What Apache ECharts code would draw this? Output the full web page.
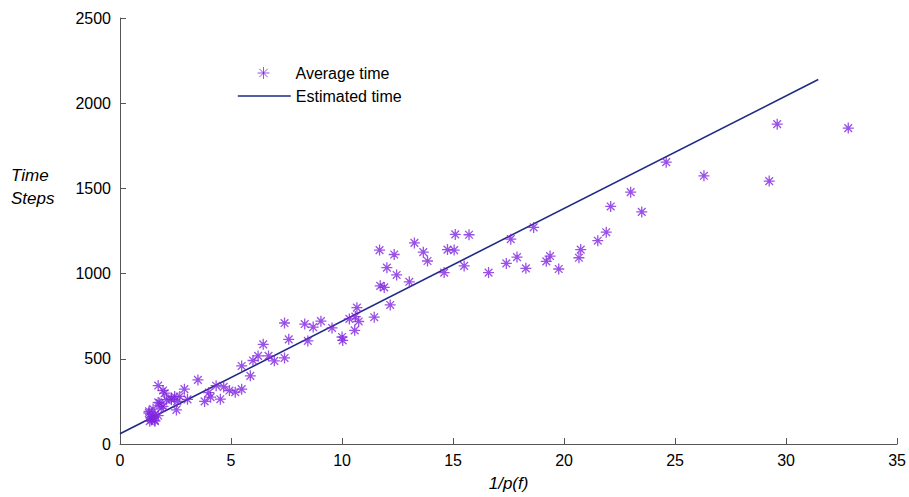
<!DOCTYPE html>
<html>
<head>
<meta charset="utf-8">
<script src="https://cdn.jsdelivr.net/npm/echarts@6/dist/echarts.min.js"></script>
<style>
  html, body { margin: 0; padding: 0; background: #fff; }
  #chart { width: 909px; height: 497px; }
</style>
</head>
<body>
<div id="chart"></div>
<script>
// Measured average run time against 1/p(f)
const avgX = [1.31, 1.30, 1.42, 1.34, 1.39, 1.49, 1.57, 1.57, 1.57, 1.72, 1.45,
  1.72, 1.72, 1.79, 1.86, 1.94, 1.94, 2.01, 2.09, 2.31, 2.31, 2.46, 2.54, 2.58, 2.69, 2.90, 3.04, 3.51,
  3.81, 4.00, 4.08, 4.33, 4.52, 4.67, 4.93, 5.19, 5.48, 5.48, 5.87, 5.99, 6.22, 6.45, 6.69, 6.95,
  7.41, 7.41, 7.60, 8.32, 8.46, 8.70, 9.05, 9.55, 10.00, 10.03, 10.33, 10.57, 10.60, 10.67, 10.75,
  11.45, 11.69, 11.72, 11.90, 12.02, 12.17, 12.35, 12.46, 13.03, 13.26, 13.66, 13.85, 14.60, 14.75,
  15.05, 15.10, 15.50, 15.72, 16.60, 17.40, 17.60, 17.88, 18.28, 18.63, 19.20, 19.37, 19.76, 20.67,
  20.75, 21.52, 21.90, 22.10, 23.00, 23.50, 24.60, 26.30, 29.24, 29.60, 32.80];
const avgY = [192, 182, 143, 134, 153, 205, 134, 172, 140, 167, 160,
  343, 244, 240, 211, 221, 314, 298, 260, 269, 260, 279, 200, 250, 279, 322, 262, 376,
  250, 302, 275, 342, 263, 335, 314, 304, 322, 458, 400, 490, 517, 585, 517, 488,
  505, 710, 614, 704, 605, 686, 721, 681, 628, 608, 734, 667, 748, 800, 719,
  744, 1138, 928, 919, 1035, 816, 1112, 992, 952, 1180, 1126, 1074, 1006, 1141,
  1138, 1230, 1045, 1228, 1006, 1060, 1202, 1097, 1031, 1271, 1072, 1103, 1027, 1093,
  1141, 1193, 1243, 1394, 1478, 1362, 1654, 1574, 1543, 1877, 1854];

// Fitted linear estimate (end points of the fit)
const estX = [0, 31.45];
const estY = [60, 2139];

// Axis ticks
const xTicks = [0, 5, 10, 15, 20, 25, 30, 35];
const yTicks = [0, 500, 1000, 1500, 2000, 2500];

const avgPoints = avgX.map((x, i) => [x, avgY[i]]);
const estPoints = estX.map((x, i) => [x, estY[i]]);

// Asterisk marker: four crossing strokes
const asterisk = 'path://M5,0L5,10M0,5L10,5M1.5,1.5L8.5,8.5M1.5,8.5L8.5,1.5';

const purple = '#8026e0';
const navy = '#1f2a86';
const axisGray = '#555555';
const font = '"Liberation Sans", Arial, Helvetica, sans-serif';

const chart = echarts.init(document.getElementById('chart'), null, { renderer: 'svg' });

chart.setOption({
  animation: false,
  backgroundColor: '#ffffff',
  textStyle: { fontFamily: font },
  grid: { left: 120, right: 6, top: 18, bottom: 49, containLabel: false },
  legend: [
    {
      data: [{ name: 'Average time', icon: asterisk }],
      left: 257, top: 65,
      itemWidth: 12, itemHeight: 12,
      padding: 0,
      itemStyle: { color: 'transparent', borderColor: purple, borderWidth: 1 },
      textStyle: { fontSize: 16, color: '#000', fontFamily: font, padding: [0, 0, 0, 21] },
      selectedMode: false
    },
    {
      data: ['Estimated time'],
      left: 237, top: 88,
      itemWidth: 53, itemHeight: 14,
      padding: 0,
      // line only, no marker in the key
      itemStyle: { opacity: 0 },
      lineStyle: { color: navy, width: 1.6 },
      textStyle: { fontSize: 16, color: '#000', fontFamily: font },
      selectedMode: false
    }
  ],
  xAxis: {
    type: 'value',
    min: xTicks[0], max: xTicks[xTicks.length - 1], interval: 5,
    name: '1/p(f)',
    nameLocation: 'middle',
    nameGap: 31,
    nameTextStyle: { fontSize: 17, fontStyle: 'italic', color: '#000', fontFamily: font },
    axisLine: { show: true, lineStyle: { color: axisGray, width: 1 } },
    axisTick: { show: true, inside: true, length: 6, lineStyle: { color: axisGray } },
    axisLabel: { fontSize: 16, color: '#000', margin: 8, fontFamily: font },
    splitLine: { show: false }
  },
  yAxis: {
    type: 'value',
    min: yTicks[0], max: yTicks[yTicks.length - 1], interval: 500,
    axisLine: { show: true, lineStyle: { color: axisGray, width: 1 } },
    axisTick: { show: true, inside: true, length: 6, lineStyle: { color: axisGray } },
    axisLabel: { fontSize: 16, color: '#000', margin: 9, fontFamily: font,
                 formatter: (v) => String(v) },
    splitLine: { show: false }
  },
  graphic: [
    {
      type: 'text', left: 11, top: 164,
      style: { text: 'Time\nSteps', fontSize: 17, fontStyle: 'italic', fill: '#000',
               fontFamily: font, lineHeight: 23, textAlign: 'left' }
    }
  ],
  series: [
    {
      name: 'Average time',
      type: 'scatter',
      data: avgPoints,
      symbol: asterisk,
      symbolSize: 11,
      itemStyle: { color: 'transparent', borderColor: purple, borderWidth: 1.3 },
      z: 3
    },
    {
      name: 'Estimated time',
      type: 'line',
      data: estPoints,
      symbol: 'none',
      lineStyle: { color: navy, width: 1.6 },
      itemStyle: { color: navy },
      z: 2
    }
  ]
});
</script>
</body>
</html>
